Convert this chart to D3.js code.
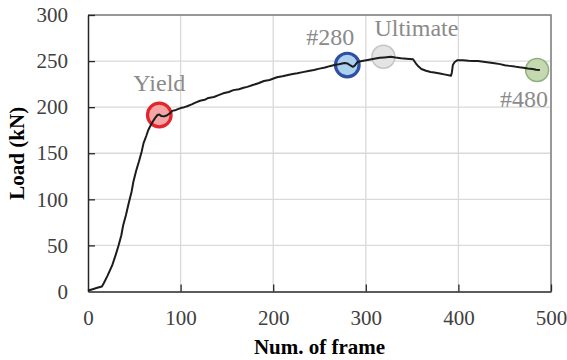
<!DOCTYPE html>
<html>
<head>
<meta charset="utf-8">
<script src="https://cdn.jsdelivr.net/npm/d3@7"></script>
<style>
  body { margin: 0; background: #fff; }
  svg { display: block; }
  text { font-family: 'Liberation Serif'; }
</style>
</head>
<body>
<svg width="567" height="360"></svg>
<script>
const frames = [0, 5, 10, 15, 17, 21, 26, 30, 33, 36, 38, 41, 44, 47, 49, 52, 55, 58, 60, 63,
  65, 68, 71, 73, 75, 77, 79, 82, 85, 88, 91, 95, 100, 104, 107, 112, 116, 121, 126, 130,
  136, 141, 146, 152, 157, 163, 168, 172, 178, 184, 190, 196, 204, 210, 216, 221, 226, 232,
  238, 244, 250, 256, 261, 266, 271, 277, 280, 283, 286, 288, 291, 296, 302, 309, 315, 320,
  327, 332, 338, 344, 351, 354, 357, 360, 365, 370, 374, 380, 386, 392, 393, 394, 396, 399,
  405, 411, 416, 421, 427, 433, 439, 445, 450, 455, 461, 466, 470, 475, 480, 484, 488];
const loads = [1, 2.5, 4, 5.5, 9, 17, 28, 40, 50, 61, 72, 83, 96, 108, 119, 131, 141, 152, 161, 169,
  175, 181, 186, 189, 191.5, 192, 190.5, 190, 191, 193, 196, 197, 199, 200, 201, 203, 205, 207, 208, 210,
  211, 213, 215, 216.5, 218.5, 219.5, 221, 222, 224, 226, 228.4, 229.5, 232.4, 233.5, 235, 236, 236.7, 238,
  239.2, 240.3, 241.8, 243, 244.5, 245.7, 246.5, 248, 247.5, 245.5, 243.8, 245, 249, 250, 251.2, 252.5, 253.5, 254,
  254.7, 253.8, 253, 252.5, 252, 247.6, 244, 241.4, 239.5, 238.2, 237.5, 236.5, 235.3, 234, 238, 245.7, 249, 251,
  250.8, 250.3, 250.2, 250, 249.2, 248.5, 247.6, 246.7, 245.5, 244.8, 244, 243.2, 242.8, 242, 241.5, 240.7, 240.3];

const markerNames = ['Yield', '#280', 'Ultimate', '#480'];
const markerFrames = [77, 280, 319, 485];
const markerLoads = [191.5, 245.7, 254.7, 240.3];

const xTicks = [0, 100, 200, 300, 400, 500];
const yTicks = [0, 50, 100, 150, 200, 250, 300];

const serif = "'Liberation Serif'";

function createChart() {
  const svg = d3.select('svg');
  const left = 88;
  const right = 551;
  const top = 15;
  const bottom = 291.5;

  const xScale = d3.scaleLinear().domain([0, 500]).range([left, right]);
  const yScale = d3.scaleLinear().domain([0, 300]).range([bottom, top]);

  // gridlines
  svg.append('g')
      .selectAll('line')
      .data(xTicks.slice(1))
      .join('line')
      .attr('x1', d => xScale(d)).attr('x2', d => xScale(d))
      .attr('y1', top).attr('y2', bottom)
      .attr('stroke', '#d9d9d9')
      .attr('stroke-width', 1.3);
  svg.append('g')
      .selectAll('line')
      .data(yTicks.slice(1))
      .join('line')
      .attr('x1', left).attr('x2', right)
      .attr('y1', d => yScale(d)).attr('y2', d => yScale(d))
      .attr('stroke', '#d9d9d9')
      .attr('stroke-width', 1.3);

  // top / right frame
  svg.append('path')
      .attr('d', `M${left},${top}H${right}V${bottom}`)
      .attr('fill', 'none')
      .attr('stroke', '#7f7f7f')
      .attr('stroke-width', 1.5);

  const xAxis = d3.axisBottom(xScale)
      .tickValues(xTicks)
      .tickSize(-7)
      .tickSizeOuter(0)
      .tickPadding(18.5);
  const xAxisG = svg.append('g')
      .attr('transform', `translate(0, ${bottom})`)
      .call(xAxis);

  const yAxis = d3.axisLeft(yScale)
      .tickValues(yTicks)
      .tickSize(-7)
      .tickSizeOuter(0)
      .tickPadding(20);
  const yAxisG = svg.append('g')
      .attr('transform', `translate(${left}, 0)`)
      .call(yAxis);

  [xAxisG, yAxisG].forEach(g => {
    g.attr('font-family', serif).attr('font-size', 21);
    g.select('.domain').attr('stroke', '#262626').attr('stroke-width', 1.5);
    g.selectAll('.tick line').attr('stroke', '#262626').attr('stroke-width', 1.3);
    g.selectAll('.tick text')
        .attr('font-family', serif)
        .attr('font-size', 21)
        .attr('fill', '#404040');
  });
  xAxisG.selectAll('.tick')
      .filter(d => d === 0)
      .select('line')
      .remove();
  yAxisG.selectAll('.tick')
      .filter(d => d === 0)
      .select('line')
      .remove();

  // markers under the curve
  const markerFill = ['#f4a5a5', '#acd1ef', '#e4e4e4', '#c4d9b2'];
  const markerStroke = ['#e3262b', '#2f4fa3', '#c4c4c4', '#8fb17c'];
  const markerWidth = [3.2, 3.2, 1.5, 1.5];
  svg.append('g')
      .selectAll('circle')
      .data(markerNames)
      .join('circle')
      .attr('cx', (d, i) => xScale(markerFrames[i]))
      .attr('cy', (d, i) => yScale(markerLoads[i]))
      .attr('r', (d, i) => i < 2 ? 11.8 : 11.5)
      .attr('fill', (d, i) => markerFill[i])
      .attr('stroke', (d, i) => markerStroke[i])
      .attr('stroke-width', (d, i) => markerWidth[i]);

  const line = d3.line()
      .x((d, i) => xScale(frames[i]))
      .y(d => yScale(d));
  svg.append('path')
      .attr('d', line(loads))
      .attr('fill', 'none')
      .attr('stroke', '#1c1c1c')
      .attr('stroke-width', 2)
      .attr('stroke-linejoin', 'round');

  const labelDx = [0, -17, 33, -13];
  const labelDy = [-24, -20, -21, 37];
  svg.append('g')
      .selectAll('text')
      .data(markerNames)
      .join('text')
      .attr('x', (d, i) => xScale(markerFrames[i]) + labelDx[i])
      .attr('y', (d, i) => yScale(markerLoads[i]) + labelDy[i])
      .attr('text-anchor', 'middle')
      .attr('font-family', serif)
      .attr('font-size', 24)
      .attr('fill', '#8a8a8a')
      .text(d => d);

  svg.append('text')
      .attr('x', (left + right) / 2)
      .attr('y', 354)
      .attr('text-anchor', 'middle')
      .attr('font-size', 21)
      .attr('font-weight', 'bold')
      .text('Num. of frame');

  svg.append('text')
      .attr('transform', `translate(24, ${(top + bottom) / 2}) rotate(-90)`)
      .attr('text-anchor', 'middle')
      .attr('font-size', 21)
      .attr('font-weight', 'bold')
      .text('Load (kN)');
}

createChart();
</script>
</body>
</html>
